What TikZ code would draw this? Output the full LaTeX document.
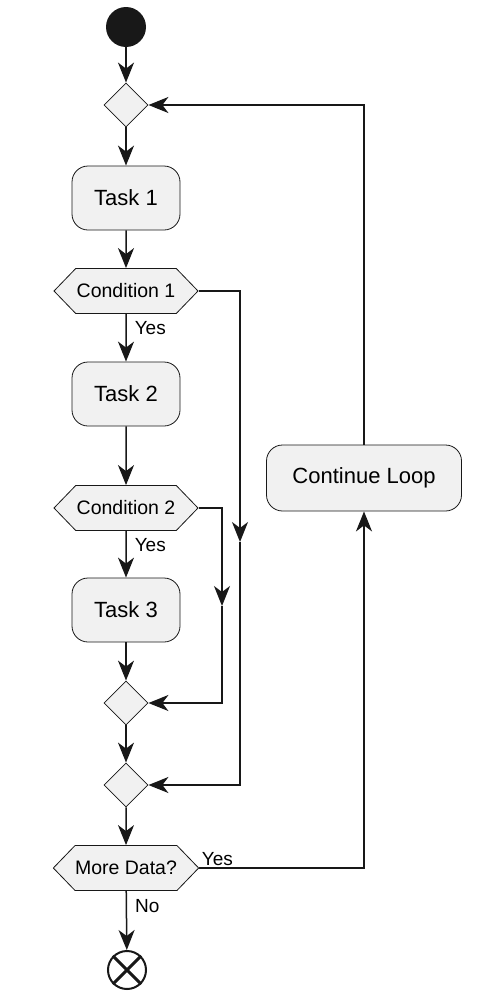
\documentclass[tikz,border=0pt]{standalone}
\usepackage{fontspec}
\setmainfont{Liberation Sans}
\usepackage{xcolor}
\usetikzlibrary{arrows.meta,shapes.geometric,shapes.symbols}

\definecolor{actfill}{HTML}{F1F1F1}
\definecolor{actline}{HTML}{181818}

\begin{document}
\begin{tikzpicture}[x=1pt,y=-1pt,>={Stealth[length=20pt,width=16pt,inset=6pt]},
  task/.style={draw=actline,fill=actfill,line width=0.8pt,rounded corners=16pt,
    minimum width=108pt,minimum height=64pt,inner sep=0pt,font=\fontsize{22}{26}\selectfont},
  cond/.style={draw=actline,fill=actfill,line width=0.8pt,shape=signal,signal to=east and west,
    signal pointer angle=92,minimum width=144pt,minimum height=45pt,inner sep=0pt,
    font=\fontsize{19.5}{23}\selectfont},
  merge/.style={draw=actline,fill=actfill,line width=0.8pt,shape=diamond,minimum width=44pt,
    minimum height=44pt,inner sep=0pt},
  flow/.style={->,draw=actline,line width=1.5pt},
  lbl/.style={font=\fontsize{19}{22}\selectfont,inner sep=0pt}]
\path[use as bounding box] (0,0) rectangle (478,1001);

% start and loop entry
\node[circle,fill=actline,minimum size=40pt,inner sep=0pt] (start) at (126,27) {};
\node[merge] (d1) at (126,105) {};

% actions and conditions
\node[task] (t1) at (126,198) {Task 1};
\node[cond] (c1) at (126,291) {Condition 1};
\node[task] (t2) at (126,394) {Task 2};
\node[cond] (c2) at (126,508) {Condition 2};
\node[task] (t3) at (126,610) {Task 3};
\node[merge] (m1) at (126,703) {};
\node[merge] (m2) at (126,785) {};
\node[cond] (more) at (126,868) {More Data?};
\node[task,minimum width=195pt,minimum height=66pt] (loop) at (364,478) {Continue Loop};

% end
\node[circle,draw=actline,line width=2pt,minimum size=38pt,inner sep=0pt] (stop) at (127,970) {};
\draw[actline,line width=3pt] (stop.north west) -- (stop.south east)
  (stop.north east) -- (stop.south west);

% main flow
\draw[flow] (start) -- (d1);
\draw[flow] (d1) -- (t1);
\draw[flow] (t1) -- (c1);
\draw[flow] (c1) -- node[lbl,pos=0.3,anchor=west,xshift=8pt] {Yes} (t2);
\draw[flow] (t2) -- (c2);
\draw[flow] (c2) -- node[lbl,pos=0.3,anchor=west,xshift=8pt] {Yes} (t3);
\draw[flow] (t3) -- (m1);
\draw[flow] (m1) -- (m2);
\draw[flow] (m2) -- (more);
\draw[flow] (more) -- node[lbl,pos=0.25,anchor=west,xshift=8pt] {No} (stop);

% skip branches
\coordinate (skip2) at (222,606);
\coordinate (skip1) at (240,542);
\draw[flow] (c2.east) -| (skip2);
\draw[flow] (skip2) |- (m1.east);
\draw[flow] (c1.east) -| (skip1);
\draw[flow] (skip1) |- (m2.east);

% loop back
\draw[flow] (more.east) node[lbl,anchor=south west,xshift=2pt,yshift=2pt] {Yes} -| (loop.south);
\draw[flow] (loop.north) |- (d1.east);
\end{tikzpicture}
\end{document}
